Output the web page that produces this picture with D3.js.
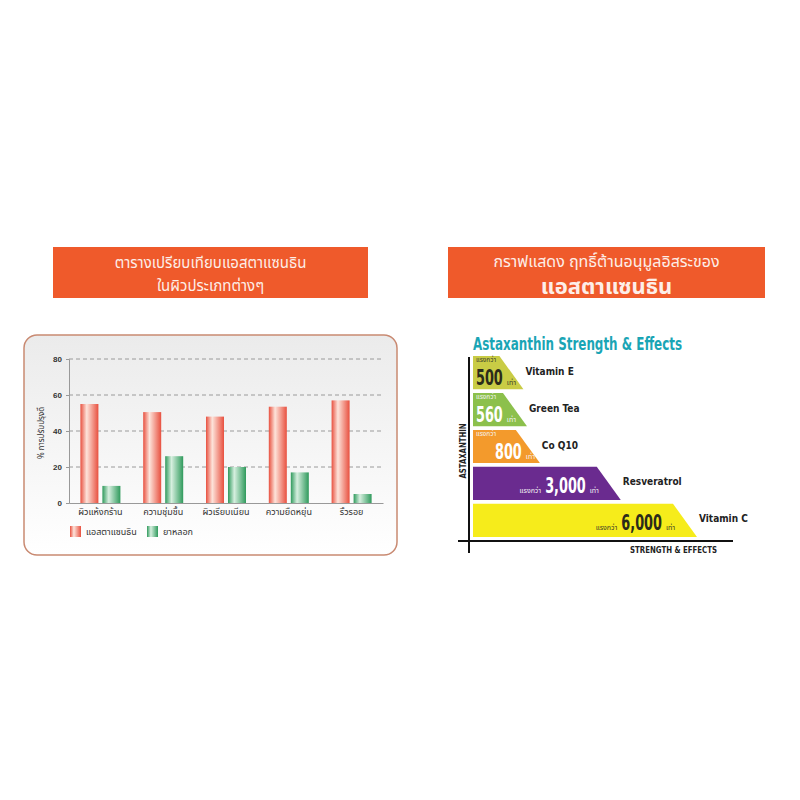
<!DOCTYPE html>
<html>
<head>
<meta charset="utf-8">
<title>Astaxanthin charts</title>
<script src="https://cdn.jsdelivr.net/npm/d3@7"></script>
<style>
  body { margin: 0; background: #fff; }
  svg { display: block; }
</style>
</head>
<body>
<script>
// ---- left chart data
var categories = ["ผิวแห้งกร้าน", "ความชุ่มชื้น", "ผิวเรียบเนียน", "ความยืดหยุ่น", "ริ้วรอย"];
var astaValues = [55, 50.5, 48, 53.5, 57];
var placeboValues = [9.5, 26, 20, 17, 5];
var seriesNames = ["แอสตาแซนธิน", "ยาหลอก"];
var yTicks = [0, 20, 40, 60, 80];

// ---- right chart data
var products = ["Vitamin E", "Green Tea", "Co Q10", "Resveratrol", "Vitamin C"];
var strength = [500, 560, 800, 3000, 6000];
var productColors = ["#c9cc45", "#8cc04c", "#f39a2c", "#6a2b8f", "#f6ec1b"];

var thaiFont = "'Noto Sans Thai', 'Noto Sans', sans-serif";
var condFont = "'DejaVu Sans Condensed', sans-serif";

var svg = d3.select("body").append("svg").attr("width", 800).attr("height", 800);
var defs = svg.append("defs");

// gradients
function barGrad(id, edge, mid) {
    var g = defs.append("linearGradient").attr("id", id).attr("x1", 0).attr("x2", 1).attr("y1", 0).attr("y2", 0);
    g.append("stop").attr("offset", "0%").attr("stop-color", edge);
    g.append("stop").attr("offset", "35%").attr("stop-color", mid);
    g.append("stop").attr("offset", "100%").attr("stop-color", edge);
}
barGrad("gRed", "#e8503f", "#fde3da");
barGrad("gGreen", "#2f9a5c", "#d6efdf");
var pg = defs.append("linearGradient").attr("id", "gPanel").attr("x1", 0).attr("x2", 0).attr("y1", 0).attr("y2", 1);
pg.append("stop").attr("offset", "0%").attr("stop-color", "#ebebeb");
pg.append("stop").attr("offset", "100%").attr("stop-color", "#ffffff");

// ---- title boxes
function titleBox(x, y, w, h, lines) {
    svg.append("rect").attr("x", x).attr("y", y).attr("width", w).attr("height", h).attr("fill", "#ef5a2b");
    lines.forEach(function(l) {
        svg.append("text").attr("x", x + w / 2).attr("y", l.y).attr("text-anchor", "middle")
            .attr("font-family", thaiFont).attr("font-size", l.size).attr("font-weight", l.weight)
            .attr("fill", "#fdeee8").text(l.text);
    });
}
titleBox(53, 247, 315, 51, [
    { text: "ตารางเปรียบเทียบแอสตาแซนธิน", y: 268, size: 15, weight: "normal" },
    { text: "ในผิวประเภทต่างๆ", y: 291, size: 15, weight: "normal" }
]);
titleBox(448, 247, 317, 51, [
    { text: "กราฟแสดง ฤทธิ์ต้านอนุมูลอิสระของ", y: 267, size: 16, weight: "normal" },
    { text: "แอสตาแซนธิน", y: 294, size: 22, weight: "bold" }
]);

// ---- left panel
svg.append("rect").attr("x", 24).attr("y", 335).attr("width", 373).attr("height", 220)
    .attr("rx", 13).attr("fill", "url(#gPanel)").attr("stroke", "#c98a72").attr("stroke-width", 1.5);

var x = d3.scaleBand().domain(categories).range([69, 383]).paddingInner(0).paddingOuter(0);
var y = d3.scaleLinear().domain([0, 80]).range([503, 359]);
var left = svg.append("g");

// grid
left.selectAll(".grid").data(yTicks.slice(1)).enter().append("line")
    .attr("x1", 69).attr("x2", 383).attr("y1", function(d) { return y(d); }).attr("y2", function(d) { return y(d); })
    .attr("stroke", "#9a9a9a").attr("stroke-dasharray", "4,3").attr("stroke-width", 1);

var yAxis = left.append("g").attr("transform", "translate(69,0)")
    .call(d3.axisLeft(y).tickValues(yTicks).tickSize(3).tickPadding(4));
yAxis.select(".domain").attr("stroke", "#999");
yAxis.selectAll(".tick line").attr("stroke", "#999");
yAxis.selectAll("text").attr("font-family", "'Liberation Sans', sans-serif").attr("font-size", 8).attr("font-weight", "bold").attr("fill", "#333");

var xAxis = left.append("g").attr("transform", "translate(0,503)")
    .call(d3.axisBottom(x).tickSize(0).tickPadding(6));
xAxis.select(".domain").attr("stroke", "#999");
xAxis.selectAll("text").attr("font-family", thaiFont).attr("font-size", 9).attr("fill", "#333");

var bw = 18;
left.selectAll(".ra").data(astaValues).enter().append("rect")
    .attr("x", function(d, i) { return x(categories[i]) + x.bandwidth() / 2 - bw - 2; })
    .attr("y", function(d) { return y(d); })
    .attr("width", bw).attr("height", function(d) { return y(0) - y(d); })
    .attr("fill", "url(#gRed)");
left.selectAll(".gr").data(placeboValues).enter().append("rect")
    .attr("x", function(d, i) { return x(categories[i]) + x.bandwidth() / 2 + 2; })
    .attr("y", function(d) { return y(d); })
    .attr("width", bw).attr("height", function(d) { return y(0) - y(d); })
    .attr("fill", "url(#gGreen)");

left.append("text").attr("transform", "translate(44,433) rotate(-90)").attr("text-anchor", "middle")
    .attr("font-family", thaiFont).attr("font-size", 8).attr("fill", "#333").text("% การปรับปรุงดี");

// legend
var legFills = ["url(#gRed)", "url(#gGreen)"];
var legX = [70, 147];
seriesNames.forEach(function(n, i) {
    left.append("rect").attr("x", legX[i]).attr("y", 526).attr("width", 11).attr("height", 11).attr("fill", legFills[i]);
    left.append("text").attr("x", legX[i] + 16).attr("y", 535).attr("font-family", thaiFont)
        .attr("font-size", 9).attr("fill", "#333").text(n);
});

// ---- right infographic
var right = svg.append("g");
right.append("text").attr("x", 473).attr("y", 350).attr("font-family", condFont).attr("font-weight", "bold")
    .attr("font-size", 17).attr("fill", "#1aa5b5").attr("textLength", 209).attr("lengthAdjust", "spacingAndGlyphs")
    .text("Astaxanthin Strength & Effects");

var band = d3.scaleBand().domain(products).range([356, 537]).paddingInner(0.1);
var len = d3.scalePow().exponent(0.6).domain([0, 6000]).range([0, 224]);
var x0 = 473, slant = 24;

var rows = right.selectAll(".row").data(products).enter().append("g");
rows.append("path").attr("d", function(d, i) {
    var t = band(d), b = t + band.bandwidth(), r = x0 + len(strength[i]);
    return "M" + x0 + "," + t + "L" + (r - slant) + "," + t + "L" + r + "," + b + "L" + x0 + "," + b + "Z";
}).attr("fill", function(d, i) { return productColors[i]; });

rows.append("text")
    .attr("x", function(d, i) { return x0 + len(strength[i]) + 2; })
    .attr("y", function(d) { return band(d) + band.bandwidth() / 2 + 2; })
    .attr("font-family", condFont).attr("font-weight", "bold").attr("font-size", 10).attr("fill", "#222")
    .text(function(d) { return d; });

var fmt = d3.format(",");
var squeeze = 0.68;
rows.each(function(d, i) {
    var g = d3.select(this);
    var t = band(d), b = t + band.bandwidth();
    var txtCol = i === 0 || i === 4 ? "#2b2b1a" : "#ffffff";
    var smallCol = i === 0 || i === 4 ? "#3a3a2a" : "#f4f4f4";
    var label = fmt(strength[i]);
    var by = b - 4;
    var num = g.append("text").attr("font-family", condFont).attr("font-weight", "bold")
        .attr("font-size", 21).attr("fill", txtCol).text(label);
    var numW = num.node().getComputedTextLength() * squeeze;
    var nx;
    if (i < 3) {
        nx = i === 2 ? x0 + 22 : x0 + 3;
        g.append("text").attr("x", x0 + 3).attr("y", t + 6).attr("font-family", thaiFont)
            .attr("font-size", 6.5).attr("fill", smallCol).text("แรงกว่า");
    } else {
        by = b - 7;
        nx = x0 + len(strength[i]) - 35 - numW;
        g.append("text").attr("x", nx - 4).attr("y", by).attr("text-anchor", "end").attr("font-family", thaiFont)
            .attr("font-size", 7).attr("fill", smallCol).text("แรงกว่า");
    }
    num.attr("transform", "translate(" + nx + "," + by + ") scale(" + squeeze + ",1)");
    g.append("text").attr("x", nx + numW + 4).attr("y", by).attr("font-family", thaiFont)
        .attr("font-size", 7).attr("fill", smallCol).text("เท่า");
});

// axes lines
right.append("line").attr("x1", 469).attr("x2", 469).attr("y1", 357).attr("y2", 553).attr("stroke", "#111").attr("stroke-width", 2);
right.append("line").attr("x1", 458).attr("x2", 733).attr("y1", 541).attr("y2", 541).attr("stroke", "#111").attr("stroke-width", 2);
right.append("text").attr("x", 717).attr("y", 553).attr("text-anchor", "end").attr("font-family", condFont)
    .attr("font-weight", "bold").attr("font-size", 9).attr("fill", "#222").attr("textLength", 87)
    .attr("lengthAdjust", "spacingAndGlyphs").text("STRENGTH & EFFECTS");
right.append("text").attr("transform", "translate(466,451) rotate(-90)").attr("text-anchor", "middle")
    .attr("font-family", condFont).attr("font-weight", "bold").attr("font-size", 9).attr("fill", "#222")
    .attr("textLength", 55).attr("lengthAdjust", "spacingAndGlyphs").text("ASTAXANTHIN");
</script>
</body>
</html>
